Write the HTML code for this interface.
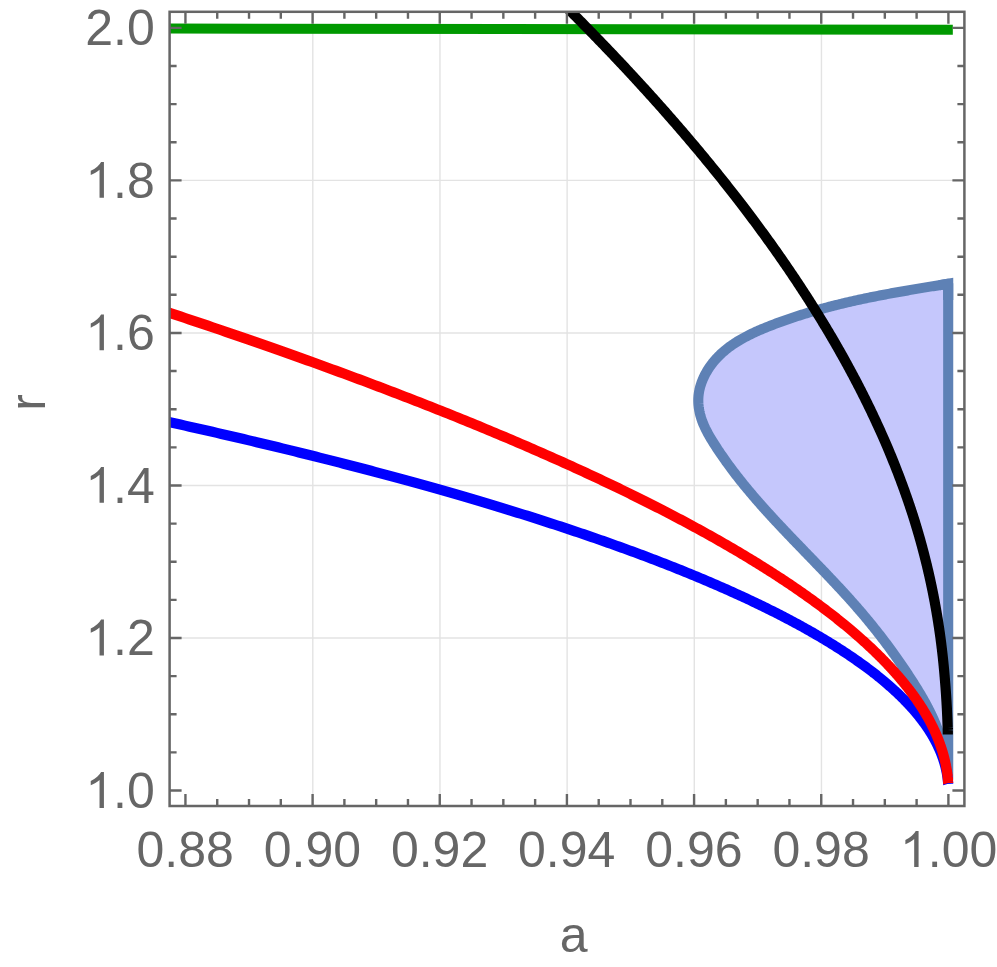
<!DOCTYPE html>
<html><head><meta charset="utf-8"><title>plot</title>
<style>html,body{margin:0;padding:0;background:#fff}svg{display:block}</style></head>
<body>
<svg width="997" height="967" viewBox="0 0 997 967">
<rect width="997" height="967" fill="#fff"/>
<defs><clipPath id="c"><rect x="169.60" y="11.80" width="794.80" height="794.20"/></clipPath></defs>
<path d="M312.80,11.80 V806.00 M439.96,11.80 V806.00 M567.12,11.80 V806.00 M694.28,11.80 V806.00 M821.44,11.80 V806.00 M169.60,637.98 H964.40 M169.60,485.46 H964.40 M169.60,332.94 H964.40 M169.60,180.42 H964.40" stroke="#e3e3e3" stroke-width="1.4" fill="none"/>
<g clip-path="url(#c)" fill="none" stroke-linecap="butt" stroke-linejoin="miter">
<path d="M948.20,283.70 L946.69,283.94 L945.18,284.19 L943.67,284.43 L942.17,284.68 L940.66,284.92 L939.15,285.16 L937.65,285.41 L936.14,285.65 L934.64,285.90 L933.14,286.14 L931.63,286.39 L930.13,286.63 L928.63,286.88 L927.13,287.13 L925.63,287.38 L924.13,287.62 L922.63,287.87 L921.13,288.12 L919.64,288.37 L918.14,288.62 L916.64,288.87 L915.15,289.13 L913.65,289.38 L912.16,289.64 L910.66,289.89 L909.17,290.15 L907.68,290.40 L906.19,290.66 L904.70,290.92 L903.21,291.18 L901.72,291.45 L900.23,291.71 L898.74,291.97 L897.25,292.24 L895.77,292.51 L894.28,292.78 L892.79,293.05 L891.31,293.32 L889.83,293.60 L888.34,293.87 L886.86,294.15 L885.38,294.43 L883.89,294.71 L882.41,294.99 L880.93,295.28 L879.45,295.56 L877.97,295.85 L876.50,296.14 L875.02,296.43 L873.54,296.73 L872.06,297.02 L870.59,297.32 L869.11,297.62 L867.64,297.93 L866.16,298.23 L864.69,298.54 L863.22,298.85 L861.74,299.17 L860.27,299.48 L858.80,299.80 L857.33,300.12 L855.86,300.44 L854.39,300.77 L852.92,301.10 L851.46,301.43 L849.99,301.76 L848.52,302.10 L847.06,302.44 L845.59,302.78 L844.13,303.13 L842.66,303.48 L841.20,303.83 L839.74,304.19 L838.27,304.54 L836.81,304.91 L835.35,305.27 L833.89,305.64 L832.43,306.01 L830.97,306.38 L829.51,306.76 L828.05,307.14 L826.60,307.53 L825.14,307.92 L823.68,308.31 L822.23,308.71 L820.77,309.11 L819.32,309.51 L817.87,309.92 L816.41,310.33 L814.96,310.74 L813.51,311.16 L812.06,311.59 L810.61,312.01 L809.16,312.44 L807.71,312.88 L806.26,313.32 L804.81,313.76 L803.36,314.21 L801.91,314.66 L800.47,315.12 L799.02,315.58 L797.58,316.04 L796.13,316.51 L794.69,316.99 L793.24,317.46 L791.80,317.95 L790.36,318.43 L788.91,318.93 L787.47,319.42 L786.03,319.93 L784.59,320.43 L783.15,320.94 L781.71,321.46 L780.28,321.98 L778.84,322.51 L777.40,323.04 L775.96,323.58 L774.53,324.12 L773.09,324.66 L771.66,325.22 L770.22,325.77 L768.79,326.34 L767.36,326.91 L765.93,327.48 L764.50,328.06 L763.08,328.65 L761.66,329.25 L760.25,329.86 L758.83,330.47 L757.43,331.09 L756.03,331.72 L754.63,332.36 L753.24,333.01 L751.86,333.67 L750.48,334.34 L749.11,335.02 L747.75,335.71 L746.39,336.41 L745.05,337.12 L743.71,337.85 L742.39,338.58 L741.07,339.33 L739.76,340.09 L738.47,340.87 L737.18,341.66 L735.91,342.46 L734.64,343.28 L733.39,344.11 L732.16,344.95 L730.93,345.81 L729.72,346.69 L728.53,347.58 L727.34,348.49 L726.18,349.41 L725.02,350.35 L723.89,351.31 L722.77,352.28 L721.66,353.27 L720.58,354.28 L719.51,355.31 L718.46,356.36 L717.42,357.43 L716.41,358.51 L715.41,359.62 L714.43,360.74 L713.48,361.89 L712.54,363.05 L711.62,364.24 L710.73,365.45 L709.86,366.68 L709.01,367.93 L708.18,369.20 L707.38,370.49 L706.60,371.81 L705.85,373.13 L705.13,374.48 L704.43,375.84 L703.77,377.22 L703.14,378.61 L702.54,380.02 L701.98,381.43 L701.45,382.86 L700.96,384.30 L700.50,385.75 L700.09,387.21 L699.71,388.68 L699.38,390.15 L699.09,391.63 L698.84,393.12 L698.64,394.60 L698.48,396.10 L698.37,397.59 L698.30,399.09 L698.29,400.59 L698.31,402.08 L698.38,403.58 L698.50,405.07 L698.65,406.57 L698.84,408.06 L699.08,409.54 L699.35,411.02 L699.66,412.50 L700.00,413.96 L700.38,415.42 L700.80,416.88 L701.24,418.32 L701.72,419.75 L702.23,421.18 L702.77,422.59 L703.34,423.99 L703.93,425.38 L704.55,426.76 L705.19,428.14 L705.86,429.50 L706.54,430.86 L707.25,432.21 L707.97,433.55 L708.71,434.88 L709.47,436.20 L710.24,437.52 L711.02,438.84 L711.82,440.14 L712.62,441.44 L713.43,442.74 L714.25,444.03 L715.07,445.32 L715.90,446.60 L716.74,447.88 L717.58,449.16 L718.42,450.43 L719.27,451.69 L720.12,452.96 L720.97,454.22 L721.84,455.47 L722.70,456.72 L723.57,457.97 L724.44,459.21 L725.32,460.45 L726.21,461.69 L727.09,462.92 L727.98,464.15 L728.88,465.38 L729.78,466.60 L730.68,467.82 L731.58,469.03 L732.49,470.25 L733.41,471.46 L734.33,472.66 L735.25,473.86 L736.17,475.06 L737.10,476.26 L738.03,477.45 L738.97,478.64 L739.91,479.83 L740.85,481.01 L741.80,482.19 L742.75,483.37 L743.70,484.55 L744.65,485.72 L745.61,486.89 L746.57,488.06 L747.54,489.22 L748.51,490.38 L749.48,491.54 L750.45,492.70 L751.43,493.86 L752.41,495.01 L753.39,496.16 L754.37,497.31 L755.36,498.45 L756.35,499.60 L757.34,500.74 L758.33,501.87 L759.33,503.01 L760.33,504.15 L761.33,505.28 L762.34,506.41 L763.34,507.54 L764.35,508.67 L765.36,509.79 L766.37,510.91 L767.39,512.04 L768.40,513.16 L769.42,514.27 L770.44,515.39 L771.46,516.51 L772.49,517.62 L773.51,518.73 L774.54,519.84 L775.57,520.95 L776.60,522.06 L777.63,523.17 L778.66,524.27 L779.70,525.38 L780.73,526.48 L781.77,527.58 L782.81,528.68 L783.85,529.78 L784.89,530.88 L785.93,531.98 L786.97,533.08 L788.02,534.18 L789.06,535.27 L790.11,536.37 L791.16,537.46 L792.20,538.55 L793.25,539.65 L794.30,540.74 L795.35,541.83 L796.40,542.92 L797.45,544.01 L798.50,545.10 L799.55,546.19 L800.60,547.28 L801.65,548.37 L802.71,549.46 L803.76,550.55 L804.81,551.64 L805.87,552.73 L806.92,553.82 L807.97,554.91 L809.02,556.00 L810.08,557.09 L811.13,558.18 L812.18,559.27 L813.23,560.36 L814.29,561.45 L815.34,562.54 L816.39,563.63 L817.44,564.72 L818.49,565.81 L819.54,566.90 L820.59,567.99 L821.64,569.09 L822.69,570.18 L823.73,571.28 L824.78,572.37 L825.83,573.47 L826.87,574.56 L827.92,575.66 L828.96,576.76 L830.00,577.86 L831.04,578.96 L832.08,580.06 L833.12,581.16 L834.16,582.27 L835.19,583.37 L836.23,584.48 L837.26,585.59 L838.29,586.70 L839.32,587.81 L840.35,588.92 L841.38,590.03 L842.40,591.14 L843.43,592.26 L844.45,593.38 L845.47,594.50 L846.49,595.62 L847.50,596.74 L848.52,597.86 L849.53,598.99 L850.54,600.12 L851.55,601.25 L852.56,602.38 L853.56,603.51 L854.56,604.65 L855.56,605.79 L856.56,606.93 L857.55,608.07 L858.54,609.21 L859.53,610.36 L860.52,611.51 L861.51,612.66 L862.49,613.81 L863.47,614.97 L864.44,616.13 L865.42,617.29 L866.39,618.45 L867.36,619.62 L868.32,620.78 L869.28,621.95 L870.24,623.13 L871.20,624.30 L872.15,625.48 L873.11,626.66 L874.05,627.84 L875.00,629.03 L875.94,630.21 L876.88,631.40 L877.82,632.59 L878.75,633.79 L879.69,634.98 L880.61,636.18 L881.54,637.38 L882.46,638.58 L883.38,639.79 L884.30,641.00 L885.21,642.21 L886.13,643.42 L887.03,644.63 L887.94,645.85 L888.84,647.07 L889.74,648.29 L890.64,649.51 L891.53,650.73 L892.42,651.96 L893.31,653.19 L894.19,654.42 L895.08,655.65 L895.95,656.89 L896.83,658.13 L897.70,659.37 L898.57,660.61 L899.44,661.85 L900.30,663.10 L901.16,664.35 L902.02,665.60 L902.88,666.85 L903.73,668.10 L904.58,669.36 L905.42,670.62 L906.26,671.88 L907.10,673.14 L907.94,674.40 L908.77,675.67 L909.60,676.94 L910.43,678.21 L911.25,679.48 L912.07,680.75 L912.89,682.03 L913.70,683.30 L914.51,684.58 L915.32,685.87 L916.12,687.15 L916.92,688.44 L917.71,689.73 L918.50,691.02 L919.28,692.31 L920.05,693.61 L920.83,694.91 L921.59,696.22 L922.35,697.52 L923.10,698.83 L923.84,700.14 L924.58,701.46 L925.31,702.78 L926.03,704.10 L926.75,705.43 L927.45,706.76 L928.15,708.10 L928.84,709.44 L929.52,710.78 L930.19,712.13 L930.86,713.48 L931.51,714.83 L932.15,716.19 L932.78,717.56 L933.40,718.92 L934.01,720.30 L934.61,721.68 L935.20,723.06 L935.78,724.45 L936.35,725.84 L936.90,727.24 L937.44,728.64 L937.97,730.05 L938.49,731.47 L938.99,732.89 L939.48,734.31 L939.95,735.74 L940.42,737.18 L940.86,738.62 L941.30,740.07 L941.72,741.53 L942.12,742.99 L942.51,744.46 L942.88,745.93 L943.24,747.41 L943.59,748.90 L943.92,750.39 L944.24,751.88 L944.54,753.38 L944.83,754.88 L945.11,756.39 L945.38,757.90 L945.64,759.41 L945.88,760.92 L946.12,762.43 L946.35,763.94 L946.57,765.46 L946.77,766.97 L946.98,768.48 L947.17,769.99 L947.36,771.50 L947.54,773.01 L947.71,774.51 L947.88,776.01 L948.04,777.51 L948.20,779.00 L948.2,779 Z" fill="#c5c7fc" stroke="#5e81b5" stroke-width="10.1" stroke-linejoin="round"/>
<path d="M939.15,285.16 L948.2,283.7 L948.2,300" stroke="#5e81b5" stroke-width="10.1" stroke-linejoin="miter" stroke-miterlimit="10"/>
<path d="M167.60,28.6 L952.8,29.7" stroke="#009900" stroke-width="10"/>
<path d="M562.89,3.59 L564.34,5.03 L565.78,6.47 L567.22,7.91 L568.66,9.34 L570.10,10.78 L571.53,12.21 L572.96,13.64 L574.38,15.07 L575.80,16.50 L577.22,17.93 L578.63,19.36 L580.04,20.79 L581.45,22.21 L582.85,23.63 L584.25,25.06 L585.64,26.48 L587.04,27.89 L588.42,29.31 L589.81,30.73 L591.19,32.14 L592.57,33.56 L593.94,34.97 L595.31,36.38 L596.68,37.79 L598.04,39.20 L599.40,40.61 L600.76,42.01 L602.11,43.42 L603.46,44.82 L604.81,46.22 L606.15,47.62 L607.49,49.02 L608.82,50.42 L610.16,51.82 L611.48,53.21 L612.81,54.61 L614.13,56.00 L615.45,57.39 L616.76,58.78 L618.08,60.17 L619.38,61.56 L620.69,62.95 L621.99,64.33 L623.28,65.72 L624.58,67.10 L625.87,68.48 L627.16,69.86 L628.44,71.24 L629.72,72.62 L631.00,73.99 L632.27,75.37 L633.54,76.74 L634.81,78.11 L636.07,79.48 L637.33,80.85 L638.59,82.22 L639.84,83.59 L641.09,84.95 L642.33,86.32 L643.58,87.68 L644.82,89.04 L646.05,90.40 L647.29,91.76 L648.52,93.12 L649.74,94.48 L650.96,95.83 L652.18,97.19 L653.40,98.54 L654.61,99.89 L655.82,101.24 L657.03,102.59 L658.23,103.94 L659.43,105.28 L660.63,106.63 L661.82,107.97 L663.01,109.31 L664.19,110.66 L665.38,112.00 L666.56,113.33 L667.73,114.67 L668.91,116.01 L670.08,117.34 L671.24,118.68 L672.41,120.01 L673.57,121.34 L674.72,122.67 L675.88,124.00 L677.03,125.33 L678.17,126.65 L679.32,127.98 L680.46,129.30 L681.60,130.62 L682.73,131.94 L683.86,133.26 L684.99,134.58 L686.11,135.90 L687.24,137.21 L688.35,138.53 L689.47,139.84 L690.58,141.16 L691.69,142.47 L692.79,143.78 L693.90,145.08 L695.00,146.39 L696.09,147.70 L697.18,149.00 L698.27,150.30 L699.36,151.61 L700.44,152.91 L701.52,154.21 L702.60,155.51 L703.67,156.80 L704.75,158.10 L705.81,159.39 L706.88,160.69 L707.94,161.98 L709.00,163.27 L710.05,164.56 L711.10,165.85 L712.15,167.13 L713.20,168.42 L714.24,169.70 L715.28,170.99 L716.32,172.27 L717.35,173.55 L718.38,174.83 L719.41,176.11 L720.43,177.39 L721.46,178.66 L722.47,179.94 L723.49,181.21 L724.50,182.48 L725.51,183.75 L726.52,185.02 L727.52,186.29 L728.52,187.56 L729.52,188.82 L730.51,190.09 L731.50,191.35 L732.49,192.61 L733.47,193.88 L734.46,195.14 L735.44,196.39 L736.41,197.65 L737.38,198.91 L738.36,200.16 L739.32,201.42 L740.29,202.67 L741.25,203.92 L742.21,205.17 L743.16,206.42 L744.11,207.67 L745.06,208.91 L746.01,210.16 L746.95,211.40 L747.89,212.64 L748.83,213.89 L749.77,215.13 L750.70,216.36 L751.63,217.60 L752.55,218.84 L753.48,220.07 L754.40,221.31 L755.31,222.54 L756.23,223.77 L757.14,225.00 L758.05,226.23 L758.95,227.46 L759.86,228.69 L760.76,229.91 L761.65,231.14 L762.55,232.36 L763.44,233.58 L764.33,234.80 L765.21,236.02 L766.10,237.24 L766.98,238.46 L767.85,239.68 L768.73,240.89 L769.60,242.10 L770.47,243.32 L771.33,244.53 L772.20,245.74 L773.06,246.95 L773.91,248.15 L774.77,249.36 L775.62,250.56 L776.47,251.77 L777.32,252.97 L778.16,254.17 L779.00,255.37 L779.84,256.57 L780.67,257.77 L781.51,258.97 L782.34,260.16 L783.16,261.36 L783.99,262.55 L784.81,263.74 L785.63,264.93 L786.44,266.12 L787.26,267.31 L788.07,268.50 L788.88,269.68 L789.68,270.87 L790.48,272.05 L791.28,273.24 L792.08,274.42 L792.87,275.60 L793.67,276.78 L794.45,277.95 L795.24,279.13 L796.02,280.31 L796.81,281.48 L797.58,282.65 L798.36,283.82 L799.13,285.00 L799.90,286.16 L800.67,287.33 L801.44,288.50 L802.20,289.67 L802.96,290.83 L803.71,291.99 L804.47,293.16 L805.22,294.32 L805.97,295.48 L806.72,296.64 L807.46,297.79 L808.20,298.95 L808.94,300.11 L809.68,301.26 L810.41,302.41 L811.14,303.57 L811.87,304.72 L812.60,305.87 L813.32,307.01 L814.04,308.16 L814.76,309.31 L815.47,310.45 L816.19,311.60 L816.90,312.74 L817.61,313.88 L818.31,315.02 L819.01,316.16 L819.71,317.30 L820.41,318.43 L821.11,319.57 L821.80,320.70 L822.49,321.84 L823.18,322.97 L823.86,324.10 L824.55,325.23 L825.23,326.36 L825.90,327.48 L826.58,328.61 L827.25,329.74 L827.92,330.86 L828.59,331.98 L829.26,333.10 L829.92,334.23 L830.58,335.34 L831.24,336.46 L831.89,337.58 L832.55,338.70 L833.20,339.81 L833.84,340.92 L834.49,342.04 L835.13,343.15 L835.77,344.26 L836.41,345.37 L837.05,346.47 L837.68,347.58 L838.31,348.69 L838.94,349.79 L839.57,350.89 L840.19,352.00 L840.82,353.10 L841.43,354.20 L842.05,355.30 L842.67,356.39 L843.28,357.49 L843.89,358.59 L844.50,359.68 L845.10,360.77 L845.70,361.86 L846.30,362.96 L846.90,364.05 L847.50,365.13 L848.09,366.22 L848.68,367.31 L849.27,368.39 L849.86,369.48 L850.44,370.56 L851.02,371.64 L851.60,372.72 L852.18,373.80 L852.76,374.88 L853.33,375.96 L853.90,377.03 L854.47,378.11 L855.03,379.18 L855.60,380.25 L856.16,381.33 L856.72,382.40 L857.27,383.46 L857.83,384.53 L858.38,385.60 L858.93,386.67 L859.48,387.73 L860.02,388.79 L860.57,389.86 L861.11,390.92 L861.65,391.98 L862.18,393.04 L862.72,394.10 L863.25,395.15 L863.78,396.21 L864.31,397.26 L864.84,398.32 L865.36,399.37 L865.88,400.42 L866.40,401.47 L866.92,402.52 L867.43,403.57 L867.94,404.62 L868.45,405.66 L868.96,406.71 L869.47,407.75 L869.97,408.79 L870.47,409.83 L870.97,410.87 L871.47,411.91 L871.97,412.95 L872.46,413.99 L872.95,415.02 L873.44,416.06 L873.93,417.09 L874.41,418.12 L874.89,419.16 L875.38,420.19 L875.85,421.21 L876.33,422.24 L876.80,423.27 L877.28,424.30 L877.75,425.32 L878.22,426.34 L878.68,427.37 L879.15,428.39 L879.61,429.41 L880.07,430.43 L880.53,431.45 L880.98,432.46 L881.43,433.48 L881.89,434.49 L882.34,435.51 L882.78,436.52 L883.23,437.53 L883.67,438.54 L884.11,439.55 L884.55,440.56 L884.99,441.57 L885.43,442.57 L885.86,443.58 L886.29,444.58 L886.72,445.59 L887.15,446.59 L887.58,447.59 L888.00,448.59 L888.42,449.59 L888.84,450.58 L889.26,451.58 L889.68,452.57 L890.09,453.57 L890.50,454.56 L890.91,455.55 L891.32,456.54 L891.73,457.53 L892.13,458.52 L892.53,459.51 L892.93,460.50 L893.33,461.48 L893.73,462.47 L894.12,463.45 L894.52,464.43 L894.91,465.41 L895.30,466.39 L895.68,467.37 L896.07,468.35 L896.45,469.33 L896.83,470.30 L897.21,471.28 L897.59,472.25 L897.97,473.22 L898.34,474.20 L898.71,475.17 L899.08,476.14 L899.45,477.10 L899.82,478.07 L900.18,479.04 L900.55,480.00 L900.91,480.97 L901.27,481.93 L901.62,482.89 L901.98,483.85 L902.33,484.81 L902.69,485.77 L903.04,486.73 L903.39,487.68 L903.73,488.64 L904.08,489.59 L904.42,490.55 L904.76,491.50 L905.10,492.45 L905.44,493.40 L905.78,494.35 L906.11,495.30 L906.44,496.24 L906.77,497.19 L907.10,498.13 L907.43,499.08 L907.76,500.02 L908.08,500.96 L908.40,501.90 L908.72,502.84 L909.04,503.78 L909.36,504.72 L909.68,505.65 L909.99,506.59 L910.30,507.52 L910.61,508.45 L910.92,509.39 L911.23,510.32 L911.53,511.25 L911.84,512.17 L912.14,513.10 L912.44,514.03 L912.74,514.95 L913.04,515.88 L913.33,516.80 L913.62,517.72 L913.92,518.65 L914.21,519.57 L914.49,520.49 L914.78,521.40 L915.06,522.32 L915.34,523.24 L915.62,524.15 L915.90,525.07 L916.17,525.98 L916.45,526.89 L916.72,527.80 L916.99,528.71 L917.26,529.62 L917.53,530.53 L917.80,531.43 L918.06,532.34 L918.33,533.24 L918.59,534.15 L918.85,535.05 L919.11,535.95 L919.36,536.85 L919.62,537.75 L919.87,538.65 L920.13,539.54 L920.38,540.44 L920.63,541.33 L920.87,542.23 L921.12,543.12 L921.37,544.01 L921.61,544.90 L921.85,545.79 L922.09,546.68 L922.33,547.57 L922.57,548.46 L922.80,549.34 L923.04,550.23 L923.27,551.11 L923.50,551.99 L923.73,552.87 L923.96,553.75 L924.19,554.63 L924.42,555.51 L924.64,556.39 L924.86,557.26 L925.08,558.14 L925.30,559.01 L925.52,559.88 L925.74,560.76 L925.96,561.63 L926.17,562.50 L926.38,563.36 L926.59,564.23 L926.81,565.10 L927.01,565.96 L927.22,566.83 L927.43,567.69 L927.63,568.55 L927.84,569.41 L928.04,570.27 L928.24,571.13 L928.44,571.99 L928.63,572.85 L928.83,573.70 L929.03,574.56 L929.22,575.41 L929.41,576.27 L929.60,577.12 L929.79,577.97 L929.98,578.82 L930.17,579.67 L930.35,580.51 L930.54,581.36 L930.72,582.21 L930.90,583.05 L931.08,583.89 L931.26,584.73 L931.44,585.58 L931.62,586.42 L931.79,587.25 L931.97,588.09 L932.14,588.93 L932.31,589.77 L932.48,590.60 L932.65,591.43 L932.82,592.27 L932.99,593.10 L933.15,593.93 L933.32,594.76 L933.48,595.59 L933.64,596.41 L933.80,597.24 L933.96,598.06 L934.12,598.89 L934.28,599.71 L934.43,600.53 L934.59,601.35 L934.74,602.17 L934.89,602.99 L935.04,603.81 L935.19,604.63 L935.34,605.44 L935.49,606.26 L935.63,607.07 L935.78,607.88 L935.92,608.69 L936.07,609.50 L936.21,610.31 L936.35,611.12 L936.49,611.93 L936.62,612.73 L936.76,613.54 L936.90,614.34 L937.03,615.14 L937.17,615.94 L937.30,616.74 L937.43,617.54 L937.56,618.34 L937.69,619.14 L937.82,619.93 L937.94,620.73 L938.07,621.52 L938.19,622.31 L938.32,623.10 L938.44,623.89 L938.56,624.68 L938.68,625.47 L938.80,626.26 L938.92,627.04 L939.04,627.83 L939.15,628.61 L939.27,629.39 L939.38,630.18 L939.50,630.96 L939.61,631.73 L939.72,632.51 L939.83,633.29 L939.94,634.06 L940.05,634.84 L940.15,635.61 L940.26,636.38 L940.37,637.16 L940.47,637.92 L940.57,638.69 L940.67,639.46 L940.78,640.23 L940.88,640.99 L940.98,641.76 L941.07,642.52 L941.17,643.28 L941.27,644.04 L941.36,644.80 L941.46,645.56 L941.55,646.31 L941.64,647.07 L941.73,647.82 L941.83,648.58 L941.91,649.33 L942.00,650.08 L942.09,650.83 L942.18,651.58 L942.26,652.32 L942.35,653.07 L942.43,653.81 L942.52,654.56 L942.60,655.30 L942.68,656.04 L942.76,656.78 L942.84,657.52 L942.92,658.25 L943.00,658.99 L943.08,659.72 L943.15,660.46 L943.23,661.19 L943.30,661.92 L943.38,662.65 L943.45,663.38 L943.52,664.10 L943.60,664.83 L943.67,665.55 L943.74,666.27 L943.80,666.99 L943.87,667.71 L943.94,668.43 L944.01,669.15 L944.07,669.86 L944.14,670.58 L944.20,671.29 L944.27,672.00 L944.33,672.71 L944.39,673.42 L944.45,674.12 L944.51,674.83 L944.57,675.53 L944.63,676.23 L944.69,676.94 L944.75,677.63 L944.80,678.33 L944.86,679.03 L944.91,679.72 L944.97,680.42 L945.03,681.11 L945.09,681.80 L945.14,682.48 L945.20,683.17 L945.25,683.86 L945.31,684.54 L945.36,685.22 L945.41,685.90 L945.47,686.58 L945.52,687.25 L945.57,687.93 L945.62,688.60 L945.67,689.27 L945.72,689.94 L945.77,690.61 L945.81,691.27 L945.86,691.94 L945.91,692.60 L945.95,693.26 L946.00,693.91 L946.04,694.57 L946.09,695.22 L946.13,695.87 L946.17,696.52 L946.21,697.17 L946.25,697.82 L946.29,698.46 L946.33,699.10 L946.37,699.74 L946.41,700.38 L946.45,701.01 L946.49,701.64 L946.53,702.27 L946.56,702.90 L946.60,703.52 L946.63,704.15 L946.67,704.77 L946.70,705.38 L946.74,706.00 L946.77,706.61 L946.80,707.22 L946.83,707.83 L946.87,708.43 L946.90,709.03 L946.93,709.63 L946.96,710.23 L946.99,710.82 L947.01,711.41 L947.04,712.00 L947.07,712.58 L947.10,713.16 L947.13,713.74 L947.15,714.31 L947.18,714.88 L947.20,715.45 L947.23,716.01 L947.25,716.57 L947.28,717.13 L947.30,717.68 L947.32,718.23 L947.34,718.78 L947.37,719.32 L947.39,719.86 L947.41,720.39 L947.43,720.92 L947.45,721.45 L947.47,721.97 L947.49,722.49 L947.51,723.00 L947.53,723.51 L947.55,724.01 L947.56,724.51 L947.58,725.00 L947.60,725.49 L947.62,725.98 L947.63,726.46 L947.65,726.93 L947.66,727.40 L947.68,727.86 L947.69,728.32 L947.71,728.77 L947.72,729.22 L947.74,729.66 L947.75,730.10 L947.76,730.53 L947.77,730.95 L947.79,731.37 L947.79,734.40" stroke="#000" stroke-width="10.2" stroke-linejoin="round"/>
<path d="M166.37,421.47 L171.06,422.51 L175.73,423.55 L180.38,424.59 L185.02,425.62 L189.63,426.66 L194.23,427.70 L198.81,428.74 L203.37,429.77 L207.91,430.81 L212.43,431.84 L216.94,432.88 L221.42,433.91 L225.89,434.95 L230.34,435.98 L234.77,437.01 L239.18,438.05 L243.58,439.08 L247.95,440.11 L252.31,441.14 L256.65,442.17 L260.97,443.20 L265.28,444.23 L269.56,445.26 L273.83,446.29 L278.08,447.32 L282.31,448.34 L286.53,449.37 L290.72,450.40 L294.90,451.42 L299.06,452.45 L303.21,453.47 L307.33,454.50 L311.44,455.52 L315.53,456.54 L319.60,457.57 L323.66,458.59 L327.70,459.61 L331.72,460.63 L335.72,461.65 L339.71,462.67 L343.67,463.69 L347.62,464.71 L351.56,465.72 L355.47,466.74 L359.37,467.76 L363.26,468.77 L367.12,469.79 L370.97,470.80 L374.80,471.82 L378.61,472.83 L382.41,473.84 L386.19,474.85 L389.95,475.87 L393.70,476.88 L397.43,477.89 L401.14,478.90 L404.84,479.90 L408.52,480.91 L412.18,481.92 L415.83,482.93 L419.46,483.93 L423.07,484.94 L426.67,485.94 L430.25,486.94 L433.81,487.95 L437.36,488.95 L440.89,489.95 L444.40,490.95 L447.90,491.95 L451.38,492.95 L454.85,493.95 L458.30,494.95 L461.73,495.94 L465.15,496.94 L468.55,497.93 L471.94,498.93 L475.31,499.92 L478.66,500.92 L482.00,501.91 L485.32,502.90 L488.62,503.89 L491.92,504.88 L495.19,505.87 L498.45,506.86 L501.69,507.85 L504.92,508.83 L508.13,509.82 L511.33,510.80 L514.51,511.79 L517.67,512.77 L520.82,513.75 L523.96,514.74 L527.08,515.72 L530.18,516.70 L533.27,517.68 L536.34,518.65 L539.40,519.63 L542.44,520.61 L545.47,521.58 L548.48,522.56 L551.48,523.53 L554.46,524.51 L557.43,525.48 L560.38,526.45 L563.32,527.42 L566.24,528.39 L569.15,529.36 L572.05,530.33 L574.92,531.29 L577.79,532.26 L580.64,533.22 L583.47,534.19 L586.29,535.15 L589.10,536.11 L591.89,537.07 L594.66,538.03 L597.42,538.99 L600.17,539.95 L602.90,540.91 L605.62,541.87 L608.33,542.82 L611.02,543.78 L613.69,544.73 L616.35,545.68 L619.00,546.63 L621.64,547.58 L624.25,548.53 L626.86,549.48 L629.45,550.43 L632.03,551.38 L634.59,552.32 L637.14,553.27 L639.68,554.21 L642.20,555.15 L644.71,556.09 L647.20,557.03 L649.68,557.97 L652.15,558.91 L654.60,559.85 L657.04,560.79 L659.47,561.72 L661.88,562.66 L664.28,563.59 L666.66,564.52 L669.04,565.45 L671.39,566.38 L673.74,567.31 L676.07,568.24 L678.39,569.17 L680.70,570.09 L682.99,571.02 L685.27,571.94 L687.53,572.86 L689.79,573.78 L692.03,574.70 L694.26,575.62 L696.47,576.54 L698.67,577.46 L700.86,578.37 L703.04,579.29 L705.20,580.20 L707.35,581.11 L709.49,582.03 L711.61,582.94 L713.72,583.85 L715.82,584.75 L717.91,585.66 L719.98,586.57 L722.04,587.47 L724.09,588.37 L726.13,589.27 L728.16,590.18 L730.17,591.08 L732.17,591.97 L734.16,592.87 L736.13,593.77 L738.09,594.66 L740.05,595.56 L741.98,596.45 L743.91,597.34 L745.83,598.23 L747.73,599.12 L749.62,600.01 L751.50,600.89 L753.37,601.78 L755.22,602.66 L757.06,603.54 L758.90,604.43 L760.72,605.31 L762.52,606.18 L764.32,607.06 L766.11,607.94 L767.88,608.81 L769.64,609.69 L771.39,610.56 L773.13,611.43 L774.86,612.30 L776.57,613.17 L778.28,614.04 L779.97,614.90 L781.65,615.77 L783.32,616.63 L784.98,617.50 L786.63,618.36 L788.27,619.22 L789.89,620.07 L791.51,620.93 L793.11,621.79 L794.71,622.64 L796.29,623.50 L797.86,624.35 L799.42,625.20 L800.97,626.05 L802.51,626.89 L804.03,627.74 L805.55,628.59 L807.06,629.43 L808.55,630.27 L810.04,631.11 L811.51,631.95 L812.98,632.79 L814.43,633.63 L815.87,634.46 L817.31,635.30 L818.73,636.13 L820.14,636.96 L821.54,637.79 L822.93,638.62 L824.32,639.44 L825.69,640.27 L827.05,641.09 L828.40,641.92 L829.74,642.74 L831.07,643.56 L832.39,644.38 L833.70,645.19 L835.00,646.01 L836.29,646.82 L837.57,647.64 L838.84,648.45 L840.11,649.26 L841.36,650.06 L842.60,650.87 L843.83,651.68 L845.05,652.48 L846.27,653.28 L847.47,654.08 L848.66,654.88 L849.85,655.68 L851.02,656.48 L852.19,657.27 L853.35,658.06 L854.49,658.86 L855.63,659.65 L856.76,660.43 L857.88,661.22 L858.99,662.01 L860.09,662.79 L861.18,663.57 L862.26,664.35 L863.34,665.13 L864.40,665.91 L865.46,666.69 L866.50,667.46 L867.54,668.23 L868.57,669.01 L869.59,669.78 L870.60,670.54 L871.61,671.31 L872.60,672.08 L873.59,672.84 L874.56,673.60 L875.53,674.36 L876.49,675.12 L877.44,675.88 L878.39,676.63 L879.32,677.39 L880.25,678.14 L881.16,678.89 L882.07,679.64 L882.97,680.38 L883.87,681.13 L884.75,681.87 L885.63,682.62 L886.50,683.36 L887.36,684.09 L888.21,684.83 L889.05,685.57 L889.89,686.30 L890.72,687.03 L891.54,687.76 L892.35,688.49 L893.16,689.22 L893.96,689.94 L894.74,690.67 L895.53,691.39 L896.30,692.11 L897.07,692.83 L897.83,693.54 L898.58,694.26 L899.32,694.97 L900.06,695.68 L900.79,696.39 L901.51,697.10 L902.22,697.80 L902.93,698.51 L903.63,699.21 L904.32,699.91 L905.00,700.61 L905.68,701.30 L906.35,702.00 L907.02,702.69 L907.67,703.38 L908.32,704.07 L908.97,704.76 L909.60,705.44 L910.23,706.13 L910.85,706.81 L911.47,707.49 L912.07,708.17 L912.68,708.84 L913.27,709.52 L913.86,710.19 L914.44,710.86 L915.02,711.53 L915.58,712.20 L916.15,712.86 L916.70,713.52 L917.25,714.18 L917.79,714.84 L918.33,715.50 L918.86,716.15 L919.38,716.81 L919.90,717.46 L920.41,718.11 L920.91,718.75 L921.41,719.40 L921.90,720.04 L922.39,720.68 L922.87,721.32 L923.34,721.96 L923.81,722.59 L924.27,723.23 L924.73,723.86 L925.18,724.49 L925.63,725.11 L926.07,725.74 L926.50,726.36 L926.93,726.98 L927.35,727.60 L927.76,728.21 L928.18,728.83 L928.58,729.44 L928.98,730.06 L929.37,730.68 L929.76,731.29 L930.15,731.91 L930.52,732.52 L930.90,733.12 L931.26,733.73 L931.63,734.33 L931.98,734.93 L932.33,735.53 L932.68,736.13 L933.02,736.72 L933.36,737.31 L933.69,737.90 L934.02,738.49 L934.34,739.07 L934.65,739.65 L934.97,740.23 L935.27,740.81 L935.58,741.39 L935.87,741.96 L936.17,742.53 L936.45,743.10 L936.74,743.66 L937.02,744.23 L937.29,744.79 L937.56,745.34 L937.82,745.90 L938.08,746.45 L938.34,747.00 L938.59,747.55 L938.84,748.10 L939.08,748.64 L939.32,749.18 L939.56,749.72 L939.79,750.25 L940.01,750.79 L940.24,751.31 L940.45,751.84 L940.67,752.37 L940.88,752.89 L941.08,753.41 L941.29,753.92 L941.48,754.44 L941.68,754.95 L941.87,755.46 L942.06,755.96 L942.24,756.46 L942.42,756.96 L942.60,757.46 L942.77,757.95 L942.94,758.44 L943.10,758.93 L943.26,759.42 L943.42,759.90 L943.57,760.38 L943.73,760.85 L943.87,761.33 L944.02,761.80 L944.16,762.26 L944.30,762.73 L944.43,763.19 L944.56,763.64 L944.69,764.10 L944.82,764.55 L944.94,764.99 L945.06,765.44 L945.18,765.88 L945.29,766.32 L945.40,766.75 L945.51,767.18 L945.61,767.60 L945.71,768.03 L945.81,768.45 L945.91,768.86 L946.00,769.27 L946.09,769.68 L946.18,770.09 L946.27,770.49 L946.35,770.88 L946.43,771.27 L946.51,771.66 L946.59,772.05 L946.66,772.43 L946.73,772.80 L946.80,773.17 L946.87,773.54 L946.93,773.90 L947.00,774.26 L947.06,774.61 L947.12,774.96 L947.17,775.30 L947.23,775.64 L947.28,775.97 L947.33,776.30 L947.38,776.62 L947.42,776.94 L947.47,777.25 L947.51,777.56 L947.55,777.86 L947.59,778.15 L947.63,778.44 L947.66,778.72 L947.70,779.00 L947.73,779.26 L947.76,779.53 L947.79,779.78 L947.82,780.03 L947.84,780.27 L947.87,780.51 L947.89,780.73 L947.91,780.95 L947.94,781.16 L947.96,781.36 L947.97,781.56 L947.99,781.75 L948.01,781.92 L948.02,782.09 L948.04,782.25 L948.05,782.41 L948.06,782.55 L948.07,782.69 L948.09,782.81 L948.09,782.93 L948.10,783.04 L948.11,783.14 L948.12,783.23 L948.13,783.32 L948.13,783.39 L948.14,783.46 L948.14,783.52 L948.14,783.58 L948.15,783.62 L948.15,783.66 L948.15,783.70 L948.16,783.73 L948.16,783.75 L948.16,783.77 L948.16,783.78 L948.16,783.79 L948.16,783.80 L948.16,783.81 L948.16,783.81 L948.16,783.81 L948.16,783.81 L948.16,783.81" stroke="#0000ff" stroke-width="10.2" stroke-linejoin="round"/>
<path d="M166.37,311.82 L171.06,313.37 L175.73,314.92 L180.38,316.46 L185.02,318.01 L189.63,319.55 L194.23,321.09 L198.81,322.62 L203.37,324.16 L207.91,325.69 L212.43,327.22 L216.94,328.75 L221.42,330.28 L225.89,331.80 L230.34,333.32 L234.77,334.84 L239.19,336.36 L243.58,337.87 L247.96,339.38 L252.31,340.89 L256.65,342.40 L260.98,343.91 L265.28,345.41 L269.57,346.91 L273.83,348.41 L278.08,349.91 L282.32,351.40 L286.53,352.90 L290.73,354.39 L294.91,355.87 L299.07,357.36 L303.21,358.84 L307.34,360.33 L311.44,361.81 L315.53,363.28 L319.61,364.76 L323.66,366.23 L327.70,367.70 L331.72,369.17 L335.72,370.64 L339.71,372.10 L343.68,373.56 L347.63,375.02 L351.56,376.48 L355.48,377.93 L359.38,379.39 L363.26,380.84 L367.13,382.29 L370.97,383.73 L374.80,385.18 L378.62,386.62 L382.42,388.06 L386.20,389.49 L389.96,390.93 L393.71,392.36 L397.44,393.79 L401.15,395.22 L404.84,396.65 L408.52,398.07 L412.19,399.50 L415.83,400.92 L419.46,402.33 L423.08,403.75 L426.67,405.16 L430.25,406.57 L433.82,407.98 L437.36,409.39 L440.89,410.79 L444.41,412.19 L447.91,413.59 L451.39,414.99 L454.86,416.39 L458.31,417.78 L461.74,419.17 L465.16,420.56 L468.56,421.95 L471.94,423.33 L475.31,424.71 L478.67,426.09 L482.01,427.47 L485.33,428.85 L488.63,430.22 L491.92,431.59 L495.20,432.96 L498.46,434.33 L501.70,435.69 L504.93,437.06 L508.14,438.42 L511.34,439.77 L514.52,441.13 L517.68,442.48 L520.83,443.83 L523.97,445.18 L527.09,446.53 L530.19,447.88 L533.28,449.22 L536.35,450.56 L539.41,451.90 L542.45,453.23 L545.48,454.57 L548.49,455.90 L551.49,457.23 L554.47,458.55 L557.44,459.88 L560.39,461.20 L563.33,462.52 L566.25,463.84 L569.16,465.15 L572.06,466.47 L574.93,467.78 L577.80,469.09 L580.65,470.40 L583.48,471.70 L586.30,473.00 L589.11,474.30 L591.90,475.60 L594.67,476.90 L597.44,478.19 L600.18,479.48 L602.92,480.77 L605.63,482.06 L608.34,483.34 L611.03,484.63 L613.70,485.91 L616.37,487.18 L619.01,488.46 L621.65,489.73 L624.27,491.01 L626.87,492.27 L629.46,493.54 L632.04,494.81 L634.60,496.07 L637.15,497.33 L639.69,498.59 L642.21,499.84 L644.72,501.10 L647.21,502.35 L649.69,503.60 L652.16,504.84 L654.61,506.09 L657.05,507.33 L659.48,508.57 L661.89,509.81 L664.29,511.04 L666.68,512.28 L669.05,513.51 L671.41,514.74 L673.75,515.97 L676.08,517.19 L678.40,518.41 L680.71,519.63 L683.00,520.85 L685.28,522.07 L687.55,523.28 L689.80,524.49 L692.04,525.70 L694.27,526.91 L696.48,528.11 L698.68,529.31 L700.87,530.51 L703.05,531.71 L705.21,532.90 L707.36,534.10 L709.50,535.29 L711.62,536.48 L713.74,537.66 L715.84,538.85 L717.92,540.03 L720.00,541.21 L722.06,542.39 L724.11,543.56 L726.15,544.73 L728.17,545.91 L730.18,547.07 L732.18,548.24 L734.17,549.40 L736.15,550.56 L738.11,551.72 L740.06,552.88 L742.00,554.04 L743.93,555.19 L745.84,556.34 L747.74,557.49 L749.63,558.63 L751.51,559.78 L753.38,560.92 L755.24,562.06 L757.08,563.19 L758.91,564.33 L760.73,565.46 L762.54,566.59 L764.34,567.72 L766.12,568.84 L767.89,569.96 L769.66,571.08 L771.41,572.20 L773.14,573.32 L774.87,574.43 L776.59,575.54 L778.29,576.65 L779.99,577.76 L781.67,578.87 L783.34,579.97 L785.00,581.07 L786.65,582.17 L788.28,583.26 L789.91,584.35 L791.52,585.45 L793.13,586.53 L794.72,587.62 L796.30,588.70 L797.87,589.79 L799.44,590.87 L800.98,591.94 L802.52,593.02 L804.05,594.09 L805.57,595.16 L807.07,596.23 L808.57,597.29 L810.06,598.36 L811.53,599.42 L812.99,600.48 L814.45,601.53 L815.89,602.59 L817.32,603.64 L818.75,604.69 L820.16,605.74 L821.56,606.78 L822.95,607.82 L824.33,608.86 L825.70,609.90 L827.06,610.94 L828.42,611.97 L829.76,613.00 L831.09,614.03 L832.41,615.06 L833.72,616.08 L835.02,617.10 L836.31,618.12 L837.59,619.14 L838.86,620.15 L840.12,621.16 L841.37,622.17 L842.62,623.18 L843.85,624.18 L845.07,625.19 L846.28,626.19 L847.49,627.19 L848.68,628.18 L849.87,629.17 L851.04,630.17 L852.21,631.15 L853.36,632.14 L854.51,633.12 L855.65,634.11 L856.78,635.08 L857.90,636.06 L859.01,637.03 L860.11,638.01 L861.20,638.98 L862.28,639.94 L863.36,640.91 L864.42,641.87 L865.48,642.83 L866.52,643.79 L867.56,644.74 L868.59,645.70 L869.61,646.65 L870.62,647.59 L871.62,648.54 L872.62,649.48 L873.60,650.42 L874.58,651.36 L875.55,652.30 L876.51,653.23 L877.46,654.16 L878.40,655.09 L879.34,656.02 L880.27,656.94 L881.18,657.86 L882.09,658.78 L882.99,659.70 L883.89,660.61 L884.77,661.52 L885.65,662.43 L886.52,663.34 L887.38,664.24 L888.23,665.14 L889.07,666.04 L889.91,666.94 L890.74,667.83 L891.56,668.73 L892.37,669.61 L893.18,670.50 L893.97,671.39 L894.76,672.27 L895.55,673.15 L896.32,674.02 L897.09,674.90 L897.84,675.77 L898.60,676.64 L899.34,677.51 L900.08,678.37 L900.80,679.23 L901.53,680.09 L902.24,680.95 L902.95,681.80 L903.65,682.65 L904.34,683.50 L905.02,684.35 L905.70,685.19 L906.37,686.04 L907.04,686.88 L907.69,687.71 L908.34,688.55 L908.98,689.38 L909.62,690.21 L910.25,691.03 L910.87,691.86 L911.49,692.68 L912.09,693.49 L912.70,694.31 L913.29,695.12 L913.88,695.93 L914.46,696.74 L915.03,697.55 L915.60,698.35 L916.16,699.15 L916.72,699.95 L917.27,700.74 L917.81,701.54 L918.35,702.33 L918.88,703.11 L919.40,703.90 L919.92,704.68 L920.43,705.46 L920.93,706.23 L921.43,707.01 L921.92,707.78 L922.41,708.55 L922.89,709.31 L923.36,710.07 L923.83,710.83 L924.29,711.59 L924.75,712.35 L925.20,713.10 L925.65,713.85 L926.09,714.59 L926.52,715.34 L926.95,716.08 L927.37,716.82 L927.78,717.55 L928.19,718.29 L928.60,719.01 L929.00,719.74 L929.39,720.47 L929.78,721.19 L930.17,721.91 L930.54,722.62 L930.92,723.33 L931.28,724.04 L931.65,724.75 L932.00,725.46 L932.35,726.16 L932.70,726.86 L933.04,727.55 L933.38,728.24 L933.71,728.93 L934.04,729.63 L934.36,730.32 L934.67,731.02 L934.99,731.70 L935.29,732.39 L935.60,733.07 L935.89,733.75 L936.19,734.43 L936.47,735.10 L936.76,735.77 L937.04,736.44 L937.31,737.10 L937.58,737.76 L937.84,738.42 L938.10,739.08 L938.36,739.73 L938.61,740.38 L938.86,741.02 L939.10,741.66 L939.34,742.30 L939.58,742.94 L939.81,743.57 L940.03,744.20 L940.26,744.82 L940.47,745.45 L940.69,746.06 L940.90,746.68 L941.10,747.29 L941.31,747.90 L941.50,748.51 L941.70,749.11 L941.89,749.71 L942.08,750.30 L942.26,750.89 L942.44,751.48 L942.62,752.07 L942.79,752.65 L942.96,753.23 L943.12,753.80 L943.28,754.37 L943.44,754.94 L943.60,755.50 L943.75,756.06 L943.89,756.62 L944.04,757.17 L944.18,757.72 L944.32,758.26 L944.45,758.80 L944.58,759.34 L944.71,759.87 L944.84,760.40 L944.96,760.92 L945.08,761.45 L945.20,761.96 L945.31,762.48 L945.42,762.98 L945.53,763.49 L945.63,763.99 L945.73,764.48 L945.83,764.98 L945.93,765.46 L946.02,765.95 L946.12,766.43 L946.20,766.90 L946.29,767.37 L946.37,767.83 L946.45,768.29 L946.53,768.75 L946.61,769.20 L946.68,769.64 L946.75,770.08 L946.82,770.52 L946.89,770.95 L946.95,771.37 L947.02,771.79 L947.08,772.21 L947.14,772.62 L947.19,773.02 L947.25,773.41 L947.30,773.81 L947.35,774.19 L947.40,774.57 L947.44,774.94 L947.49,775.31 L947.53,775.67 L947.57,776.02 L947.61,776.37 L947.65,776.71 L947.68,777.04 L947.72,777.36 L947.75,777.68 L947.78,777.99 L947.81,778.29 L947.84,778.58 L947.86,778.87 L947.89,779.15 L947.91,779.41 L947.93,779.67 L947.96,779.92 L947.98,780.16 L947.99,780.40 L948.01,780.62 L948.03,780.83 L948.04,781.03 L948.06,781.23 L948.07,781.41 L948.08,781.58 L948.10,781.74 L948.11,781.89 L948.12,782.03 L948.12,782.17 L948.13,782.29 L948.14,782.40 L948.15,782.50 L948.15,782.59 L948.16,782.67 L948.16,782.75 L948.16,782.81 L948.17,782.87 L948.17,782.92 L948.17,782.96 L948.18,782.99 L948.18,783.02 L948.18,783.04 L948.18,783.06 L948.18,783.08 L948.18,783.09 L948.18,783.09 L948.18,783.10 L948.18,783.10 L948.18,783.10 L948.18,783.10" stroke="#ff0000" stroke-width="10.2" stroke-linejoin="round"/>
</g>
<path d="M185.44,806.00 v-12.00 M185.44,11.80 v12.00 M217.23,806.00 v-7.00 M217.23,11.80 v7.00 M249.02,806.00 v-7.00 M249.02,11.80 v7.00 M280.81,806.00 v-7.00 M280.81,11.80 v7.00 M312.60,806.00 v-12.00 M312.60,11.80 v12.00 M344.39,806.00 v-7.00 M344.39,11.80 v7.00 M376.18,806.00 v-7.00 M376.18,11.80 v7.00 M407.97,806.00 v-7.00 M407.97,11.80 v7.00 M439.76,806.00 v-12.00 M439.76,11.80 v12.00 M471.55,806.00 v-7.00 M471.55,11.80 v7.00 M503.34,806.00 v-7.00 M503.34,11.80 v7.00 M535.13,806.00 v-7.00 M535.13,11.80 v7.00 M566.92,806.00 v-12.00 M566.92,11.80 v12.00 M598.71,806.00 v-7.00 M598.71,11.80 v7.00 M630.50,806.00 v-7.00 M630.50,11.80 v7.00 M662.29,806.00 v-7.00 M662.29,11.80 v7.00 M694.08,806.00 v-12.00 M694.08,11.80 v12.00 M725.87,806.00 v-7.00 M725.87,11.80 v7.00 M757.66,806.00 v-7.00 M757.66,11.80 v7.00 M789.45,806.00 v-7.00 M789.45,11.80 v7.00 M821.24,806.00 v-12.00 M821.24,11.80 v12.00 M853.03,806.00 v-7.00 M853.03,11.80 v7.00 M884.82,806.00 v-7.00 M884.82,11.80 v7.00 M916.61,806.00 v-7.00 M916.61,11.80 v7.00 M948.40,806.00 v-12.00 M948.40,11.80 v12.00 M169.60,790.50 h12.00 M964.40,790.50 h-12.00 M169.60,752.37 h7.00 M964.40,752.37 h-7.00 M169.60,714.24 h7.00 M964.40,714.24 h-7.00 M169.60,676.11 h7.00 M964.40,676.11 h-7.00 M169.60,637.98 h12.00 M964.40,637.98 h-12.00 M169.60,599.85 h7.00 M964.40,599.85 h-7.00 M169.60,561.72 h7.00 M964.40,561.72 h-7.00 M169.60,523.59 h7.00 M964.40,523.59 h-7.00 M169.60,485.46 h12.00 M964.40,485.46 h-12.00 M169.60,447.33 h7.00 M964.40,447.33 h-7.00 M169.60,409.20 h7.00 M964.40,409.20 h-7.00 M169.60,371.07 h7.00 M964.40,371.07 h-7.00 M169.60,332.94 h12.00 M964.40,332.94 h-12.00 M169.60,294.81 h7.00 M964.40,294.81 h-7.00 M169.60,256.68 h7.00 M964.40,256.68 h-7.00 M169.60,218.55 h7.00 M964.40,218.55 h-7.00 M169.60,180.42 h12.00 M964.40,180.42 h-12.00 M169.60,142.29 h7.00 M964.40,142.29 h-7.00 M169.60,104.16 h7.00 M964.40,104.16 h-7.00 M169.60,66.03 h7.00 M964.40,66.03 h-7.00 M169.60,27.90 h12.00 M964.40,27.90 h-12.00" stroke="#666666" stroke-width="2.4" fill="none"/>
<rect x="169.60" y="11.80" width="794.80" height="794.20" fill="none" stroke="#666666" stroke-width="2.5"/>
<g font-family="Liberation Sans, sans-serif" font-size="50px" fill="#666666">
<path d="M763,0 L583,0 L583,1147 Q518,1085 412.5,1023 Q307,961 223,930 L223,1104 Q374,1175 487,1276 Q600,1377 647,1472 L763,1472 Z" transform="translate(85.30,807.90) scale(0.02441,-0.02441)"/>
<text x="154.80" y="807.90" text-anchor="end">.0</text>
<path d="M763,0 L583,0 L583,1147 Q518,1085 412.5,1023 Q307,961 223,930 L223,1104 Q374,1175 487,1276 Q600,1377 647,1472 L763,1472 Z" transform="translate(85.30,655.38) scale(0.02441,-0.02441)"/>
<text x="154.80" y="655.38" text-anchor="end">.2</text>
<path d="M763,0 L583,0 L583,1147 Q518,1085 412.5,1023 Q307,961 223,930 L223,1104 Q374,1175 487,1276 Q600,1377 647,1472 L763,1472 Z" transform="translate(85.30,502.86) scale(0.02441,-0.02441)"/>
<text x="154.80" y="502.86" text-anchor="end">.4</text>
<path d="M763,0 L583,0 L583,1147 Q518,1085 412.5,1023 Q307,961 223,930 L223,1104 Q374,1175 487,1276 Q600,1377 647,1472 L763,1472 Z" transform="translate(85.30,350.34) scale(0.02441,-0.02441)"/>
<text x="154.80" y="350.34" text-anchor="end">.6</text>
<path d="M763,0 L583,0 L583,1147 Q518,1085 412.5,1023 Q307,961 223,930 L223,1104 Q374,1175 487,1276 Q600,1377 647,1472 L763,1472 Z" transform="translate(85.30,197.82) scale(0.02441,-0.02441)"/>
<text x="154.80" y="197.82" text-anchor="end">.8</text>
<text x="154.80" y="45.30" text-anchor="end">2.0</text>
<text x="185.24" y="866.9" text-anchor="middle">0.88</text>
<text x="312.40" y="866.9" text-anchor="middle">0.90</text>
<text x="439.56" y="866.9" text-anchor="middle">0.92</text>
<text x="566.72" y="866.9" text-anchor="middle">0.94</text>
<text x="693.88" y="866.9" text-anchor="middle">0.96</text>
<text x="821.04" y="866.9" text-anchor="middle">0.98</text>
<path d="M763,0 L583,0 L583,1147 Q518,1085 412.5,1023 Q307,961 223,930 L223,1104 Q374,1175 487,1276 Q600,1377 647,1472 L763,1472 Z" transform="translate(899.95,866.90) scale(0.02441,-0.02441)"/>
<text x="927.75" y="866.9" text-anchor="start">.00</text>
<text x="573.6" y="952" text-anchor="middle">a</text>
<text transform="translate(45,402.5) rotate(-90)" text-anchor="middle">r</text>
</g>
</svg>
</body></html>
